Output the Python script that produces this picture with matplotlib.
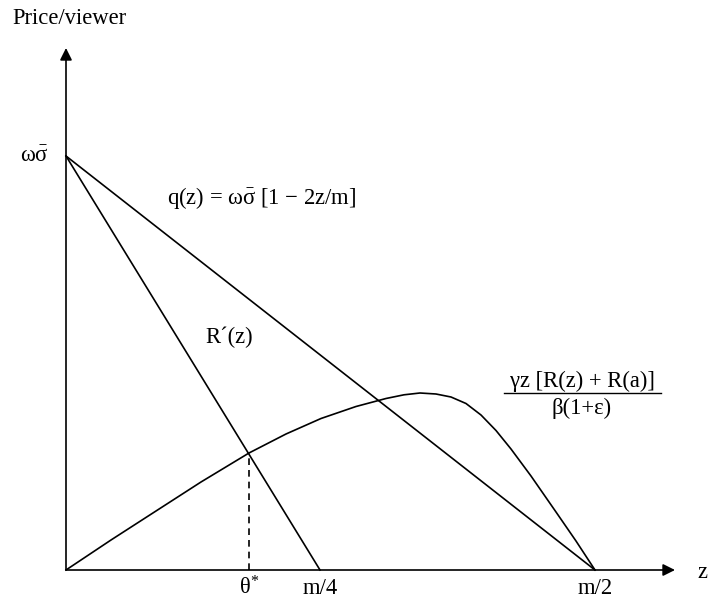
import numpy as np
import matplotlib.pyplot as plt

plt.rcParams['font.family'] = ['Liberation Serif', 'DejaVu Serif']
plt.rcParams['mathtext.fontset'] = 'custom'
plt.rcParams['mathtext.rm'] = 'Liberation Serif'
plt.rcParams['mathtext.it'] = 'Liberation Serif:italic'

# axis landmarks (z runs 0 .. m/2, price runs 0 .. omega*sigma_bar)
z_half_m = 529
z_quarter_m = 254
z_theta = 183
price_top = 414

# curve gamma z [R(z)+R(a)] / beta(1+eps)
curve_z = [0, 45, 90, 135, 183, 220, 255, 290, 320, 338, 354, 370, 385,
           400, 415, 430, 445, 465, 490, 510, 529]
curve_p = [0, 30, 59, 88, 117, 136, 151.5, 163.5, 171.5, 175.2, 177, 176,
           173, 166.5, 155, 139.5, 121, 94, 58, 29, 0]

theta_p = 117

fig = plt.figure(figsize=(7.08, 6.04), dpi=100)
ax = fig.add_axes([0, 0, 1, 1])
ax.set_xlim(-66, 708 - 66)
ax.set_ylim(570 - 604, 570)
ax.axis('off')

lw = 1.2
# axes with arrows
ax.annotate('', xy=(609, 0), xytext=(0, 0),
            arrowprops=dict(arrowstyle='-|>', lw=lw, color='black',
                            mutation_scale=18, shrinkA=0, shrinkB=0))
ax.annotate('', xy=(0, 522), xytext=(0, 0),
            arrowprops=dict(arrowstyle='-|>', lw=lw, color='black',
                            mutation_scale=18, shrinkA=0, shrinkB=0))

# q(z) and R'(z)
ax.plot([0, z_half_m], [price_top, 0], color='black', lw=lw)
ax.plot([0, z_quarter_m], [price_top, 0], color='black', lw=lw)

# curve
ax.plot(curve_z, curve_p, color='black', lw=lw, solid_joinstyle='round')

# theta* drop line
ax.plot([z_theta, z_theta], [0, theta_p], color='black', lw=lw,
        linestyle=(0, (4, 3)))

fs = 16.3
ax.text(-54, 552, 'Price/viewer', fontsize=fs, ha='left', va='center')
ax.text(-46, price_top, r'ω$\bar{\mathrm{σ}}$', fontsize=fs, ha='left', va='center')
ax.text(101, 372, r'q(z) = ω$\bar{\mathrm{σ}}$ [1 − 2z/m]', fontsize=fs,
        ha='left', va='center')
ax.text(139, 233, 'R\u00b4(z)', fontsize=fs, ha='left', va='center')
ax.text(516, 189, 'γz [R(z) + R(a)]', fontsize=fs, ha='center', va='center')
ax.plot([438, 595], [177, 177], color='black', lw=1.0)
ax.text(516, 162, 'β(1+ε)', fontsize=fs, ha='center', va='center')

ax.text(z_theta, -18, r'θ$^{\mathrm{*}}$', fontsize=fs, ha='center', va='center')
ax.text(z_quarter_m, -18, 'm/4', fontsize=fs, ha='center', va='center')
ax.text(z_half_m, -18, 'm/2', fontsize=fs, ha='center', va='center')
ax.text(636, -3, 'z', fontsize=fs, ha='center', va='center')

fig.savefig('out.png', dpi=100)
